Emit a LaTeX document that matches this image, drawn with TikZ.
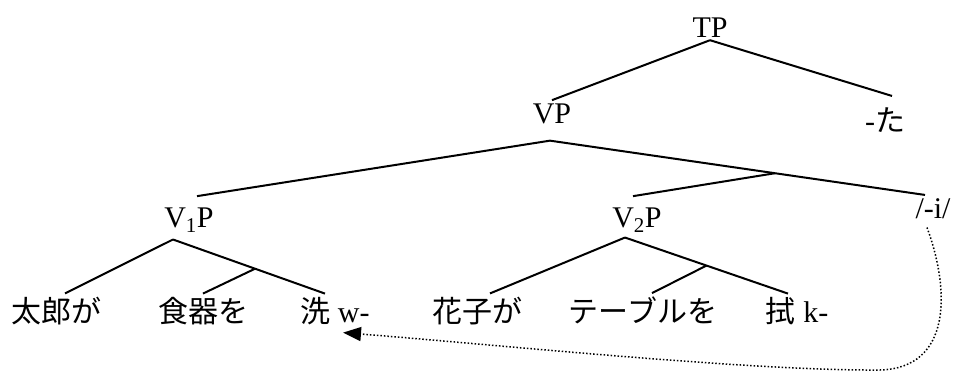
\documentclass[tikz,border=0pt]{standalone}
\usepackage{fontspec}
\setmainfont{Liberation Serif}
\newfontfamily\jpfont{Noto Sans CJK JP}
\usepackage{tikz}
\usepackage{xcolor}
\usetikzlibrary{arrows.meta, calc}
\definecolor{TreeBlack}{HTML}{000000}
\tikzset{
    % Node styles
    treelabel/.style={
        inner sep=3pt,
        anchor=base,
        text=TreeBlack,
        font=\fontsize{30}{36}\selectfont
    },
    wordlabel/.style={
        treelabel
    },
    % Line styles
    branch/.style={
        draw=TreeBlack,
        line width=2pt
    },
    movearrow/.style={
        draw=TreeBlack,
        line width=1.5pt,
        dash pattern=on 1.5pt off 2pt,
        -{Triangle[length=18pt,width=14pt]}
    }
}

\begin{document}
\begin{tikzpicture}[x=1pt, y=-1pt]
    \useasboundingbox (0,0) rectangle (955,372);

    % Phrase labels
    \node[treelabel] (tp) at (710,37) {TP};
    \node[treelabel] (vp) at (552,123) {VP};
    \node[treelabel] (ta) at (885,131) {-{\jpfont た}};
    \node[treelabel] (v1p) at (189,227) {V\textsubscript{1}P};
    \node[treelabel] (v2p) at (637,227) {V\textsubscript{2}P};
    \node[treelabel] (ii) at (933,218) {/-i/};

    % Words
    \node[wordlabel] (taro) at (57,322) {\jpfont 太郎が};
    \node[wordlabel] (shokki) at (203,322) {\jpfont 食器を};
    \node[wordlabel] (arai) at (335,322) {{\jpfont 洗} w-};
    \node[wordlabel] (hanako) at (477,322) {\jpfont 花子が};
    \node[wordlabel] (table) at (643,322) {\jpfont テーブルを};
    \node[wordlabel] (fuk) at (797,322) {{\jpfont 拭} k-};

    % Branch points
    \coordinate (vp-b) at ($(vp.south)+(-2,14)$);
    \coordinate (v1p-b) at ($(v1p.south)+(-16,4)$);
    \coordinate (v2p-b) at ($(v2p.south)+(-12,2)$);

    % TP
    \draw[branch] (tp.south) -- (vp.north);
    \draw[branch] (tp.south) -- ($(ta.north)+(7,-8)$);

    % VP
    \draw[branch] (vp-b) -- ($(v1p.north)+(8,-8)$);
    \draw[branch] (vp-b) -- coordinate[pos=0.6] (vp-m) ($(ii.north)+(-8,0)$);
    \draw[branch] (vp-m) -- ($(v2p.north)+(-4,-8)$);

    % V1P
    \draw[branch] (v1p-b) -- ($(taro.north)+(8,0)$);
    \draw[branch] (v1p-b) -- coordinate[pos=0.54] (v1p-m) ($(arai.north)+(-10,0)$);
    \draw[branch] (v1p-m) -- (shokki.north);

    % V2P
    \draw[branch] (v2p-b) -- ($(hanako.north)+(13,0)$);
    \draw[branch] (v2p-b) -- coordinate[pos=0.5] (v2p-m) ($(fuk.north)+(-9,0)$);
    \draw[branch] (v2p-m) -- ($(table.north)+(9,0)$);

    % Movement of -i
    \draw[movearrow] ($(ii.south)+(-6,6)$) .. controls (950,290) and (952,368) .. (880,370)
        .. controls (750,371) and (500,345) .. ($(arai.south)+(8,5)$);
\end{tikzpicture}
\end{document}
